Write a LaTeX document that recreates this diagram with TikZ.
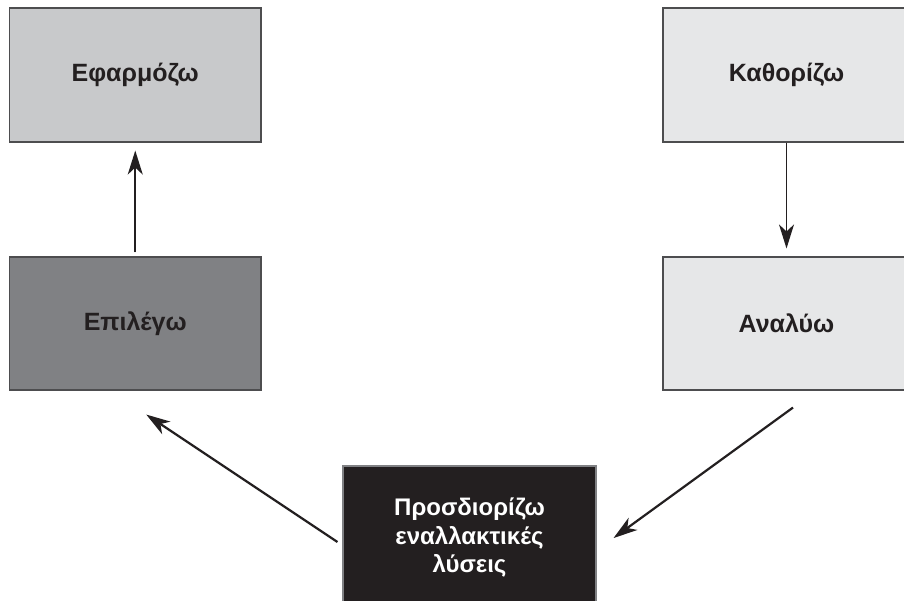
\documentclass[tikz,border=0pt]{standalone}
\usepackage{fontspec}
\setmainfont{Liberation Sans}
\usetikzlibrary{arrows.meta,calc}
\definecolor{ink}{HTML}{231F20}
\definecolor{edge}{HTML}{4D4D4F}
\definecolor{gmid}{HTML}{C8C9CB}
\definecolor{glight}{HTML}{E6E7E8}
\definecolor{gdark}{HTML}{808184}
\begin{document}
\begin{tikzpicture}[x=1pt,y=-1pt,
  box/.style={draw=edge,line width=1.1pt,rectangle,inner sep=0pt,
    font=\fontsize{25}{29}\selectfont\bfseries,text=ink,align=center},
  arr/.style={-{Stealth[length=24pt,width=15pt,inset=7pt]},draw=ink,fill=ink}]
\useasboundingbox (0,0) rectangle (904,600);
\fill[white] (0,0) rectangle (904,600);
\node[box,fill=gmid,minimum width=251.5pt,minimum height=134pt] (efar) at (135.25,75) {Εφαρμόζω};
\node[box,fill=glight,minimum width=247pt,minimum height=134pt] (kath) at (786.5,75) {Καθορίζω};
\node[box,fill=gdark,minimum width=251.5pt,minimum height=133pt] (epil) at (135.25,323.5) {Επιλέγω};
\node[box,fill=glight,minimum width=247pt,minimum height=133pt] (anal) at (786.5,323.5) {Αναλύω};
\node[box,fill=ink,draw=gdark,text=white,minimum width=253pt,minimum height=144pt,
  font=\fontsize{24}{28.5}\selectfont\bfseries] (pros) at (469.5,538) {Προσδιορίζω\\εναλλακτικές\\λύσεις};
\draw[arr,line width=2.2pt,shorten <=4pt,shorten >=8pt] (epil.north) -- (efar.south);
\draw[arr,line width=1.3pt,shorten >=8pt] (kath.south) -- (anal.north);
\draw[arr,line width=2.2pt] ($(pros.west)+(-5,4)$) -- ($(epil.south)+(11,24)$);
\draw[arr,line width=2.2pt] ($(anal.south)+(6.5,17)$) -- ($(pros.east)+(17,0)$);
\end{tikzpicture}
\end{document}
